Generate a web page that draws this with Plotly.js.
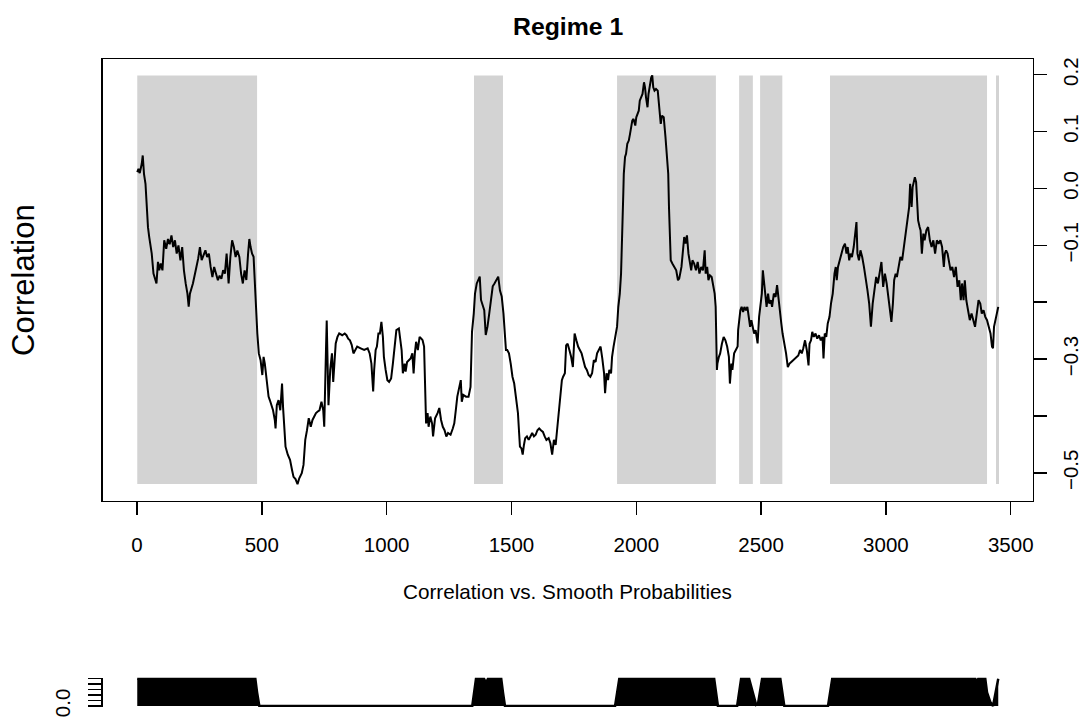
<!DOCTYPE html>
<html>
<head>
<meta charset="utf-8">
<script src="https://cdn.plot.ly/plotly-3.0.1.min.js"></script>
<style>html,body{margin:0;padding:0;background:#fff;}#chart{width:1084px;height:722px;}</style>
</head>
<body>
<div id="chart"></div>
<script>
// ---- Correlation series ----
var corrX = [1,6,11,19,23,28,34,38,44,49,59,66,74,78,84,89,95,102,109,117,124,131,138,145,152,159,166,174,181,188,195,202,207,212,224,231,238,245,252,259,267,274,281,288,295,302,309,317,324,331,338,345,352,359,367,374,381,388,395,402,410,417,424,431,438,445,450,455,461,467,471,476,482,488,495,502,507,512,521,527,532,538,545,552,555,560,567,574,581,585,591,595,604,613,621,627,635,643,650,660,667,674,681,688,696,703,710,717,724,731,739,746,750,753,757,760,764,767,774,781,786,791,796,803,810,822,832,839,846,853,860,867,874,882,896,910,924,932,939,946,950,956,961,967,973,979,985,989,996,1003,1010,1018,1025,1032,1039,1049,1053,1060,1065,1072,1076,1082,1089,1096,1103,1108,1113,1118,1125,1132,1139,1144,1150,1154,1158,1164,1168,1175,1182,1186,1194,1204,1211,1218,1225,1232,1239,1246,1256,1265,1271,1277,1283,1290,1297,1301,1307,1318,1328,1336,1342,1349,1354,1361,1368,1373,1378,1386,1391,1397,1404,1411,1418,1425,1432,1439,1447,1454,1461,1468,1472,1478,1483,1490,1497,1504,1511,1518,1526,1530,1534,1540,1545,1550,1555,1562,1569,1576,1583,1590,1597,1604,1611,1618,1626,1633,1640,1649,1656,1663,1670,1677,1684,1691,1698,1702,1707,1714,1719,1725,1732,1739,1746,1753,1760,1767,1774,1781,1788,1795,1802,1809,1816,1823,1830,1837,1843,1850,1857,1864,1871,1875,1881,1887,1892,1899,1903,1909,1913,1917,1923,1928,1934,1939,1942,1945,1948,1950,1955,1959,1964,1970,1975,1979,1984,1989,1996,2000,2006,2010,2014,2020,2025,2031,2035,2039,2045,2049,2054,2060,2064,2068,2073,2079,2086,2093,2098,2103,2110,2117,2122,2128,2131,2134,2138,2145,2153,2160,2167,2172,2181,2186,2192,2197,2203,2209,2214,2220,2225,2232,2239,2246,2253,2260,2267,2274,2278,2284,2289,2295,2302,2309,2314,2318,2321,2323,2325,2331,2336,2343,2350,2357,2364,2371,2375,2381,2385,2392,2399,2406,2408,2411,2417,2422,2428,2433,2439,2445,2450,2456,2461,2467,2472,2478,2486,2492,2497,2503,2507,2511,2517,2522,2528,2533,2539,2544,2551,2558,2564,2570,2575,2581,2586,2593,2600,2607,2614,2621,2628,2635,2642,2649,2656,2663,2669,2676,2683,2690,2694,2700,2705,2711,2718,2725,2732,2739,2746,2750,2755,2761,2767,2774,2780,2787,2794,2799,2803,2808,2815,2822,2829,2836,2842,2847,2853,2858,2864,2871,2878,2882,2886,2892,2898,2905,2912,2919,2926,2933,2940,2947,2954,2961,2968,2975,2982,2989,2996,3003,3010,3017,3022,3028,3033,3039,3044,3051,3058,3065,3072,3079,3086,3093,3097,3103,3107,3111,3116,3121,3125,3129,3135,3139,3144,3150,3155,3162,3169,3176,3183,3190,3197,3204,3211,3218,3225,3232,3236,3241,3247,3253,3259,3266,3273,3280,3287,3294,3300,3305,3311,3316,3322,3329,3336,3343,3350,3357,3364,3371,3378,3384,3391,3398,3405,3412,3419,3425,3429,3433,3439,3444,3450];
var corrY = [0.0286,0.0345,0.027,0.0433,0.058,0.0257,0.0082,-0.024,-0.068,-0.0854,-0.1146,-0.1497,-0.164,-0.167,-0.129,-0.144,-0.132,-0.144,-0.0912,-0.106,-0.0889,-0.098,-0.0825,-0.1029,-0.0912,-0.1146,-0.1,-0.1263,-0.103,-0.144,-0.167,-0.1848,-0.208,-0.185,-0.167,-0.1497,-0.138,-0.1234,-0.103,-0.126,-0.1146,-0.1088,-0.1205,-0.1146,-0.138,-0.1556,-0.138,-0.1497,-0.1614,-0.1532,-0.159,-0.1439,-0.1497,-0.1146,-0.167,-0.1205,-0.0912,-0.103,-0.1205,-0.109,-0.1205,-0.1497,-0.167,-0.144,-0.161,-0.1146,-0.0889,-0.103,-0.1146,-0.12,-0.161,-0.208,-0.255,-0.29,-0.302,-0.328,-0.296,-0.308,-0.3515,-0.366,-0.372,-0.381,-0.39,-0.407,-0.422,-0.381,-0.372,-0.39,-0.343,-0.384,-0.425,-0.454,-0.468,-0.477,-0.495,-0.507,-0.511,-0.5198,-0.5095,-0.5006,-0.486,-0.442,-0.425,-0.404,-0.419,-0.407,-0.401,-0.395,-0.392,-0.39,-0.375,-0.39,-0.419,-0.325,-0.284,-0.232,-0.308,-0.381,-0.319,-0.29,-0.34,-0.299,-0.2725,-0.261,-0.255,-0.258,-0.255,-0.258,-0.264,-0.267,-0.275,-0.29,-0.284,-0.278,-0.281,-0.284,-0.281,-0.29,-0.308,-0.357,-0.319,-0.284,-0.278,-0.255,-0.255,-0.2345,-0.261,-0.296,-0.319,-0.337,-0.34,-0.334,-0.308,-0.2725,-0.249,-0.246,-0.261,-0.284,-0.325,-0.308,-0.322,-0.305,-0.302,-0.299,-0.29,-0.325,-0.29,-0.2696,-0.284,-0.261,-0.264,-0.2667,-0.278,-0.366,-0.413,-0.395,-0.419,-0.401,-0.413,-0.436,-0.404,-0.395,-0.386,-0.407,-0.419,-0.425,-0.436,-0.43,-0.433,-0.422,-0.413,-0.39,-0.366,-0.3515,-0.337,-0.375,-0.363,-0.366,-0.366,-0.349,-0.252,-0.22,-0.185,-0.167,-0.161,-0.155,-0.196,-0.208,-0.214,-0.2576,-0.243,-0.22,-0.196,-0.172,-0.167,-0.161,-0.155,-0.1795,-0.19,-0.22,-0.255,-0.284,-0.284,-0.29,-0.308,-0.331,-0.343,-0.366,-0.395,-0.425,-0.454,-0.457,-0.468,-0.451,-0.439,-0.436,-0.442,-0.436,-0.43,-0.436,-0.433,-0.425,-0.422,-0.425,-0.428,-0.436,-0.442,-0.439,-0.448,-0.468,-0.442,-0.451,-0.419,-0.395,-0.366,-0.337,-0.331,-0.325,-0.276,-0.273,-0.284,-0.296,-0.314,-0.255,-0.267,-0.278,-0.284,-0.29,-0.302,-0.314,-0.319,-0.328,-0.331,-0.325,-0.302,-0.305,-0.29,-0.284,-0.278,-0.299,-0.325,-0.36,-0.325,-0.337,-0.319,-0.325,-0.296,-0.278,-0.267,-0.255,-0.243,-0.208,-0.185,-0.1497,-0.1146,-0.0561,-0.0094,0.0257,0.0553,0.0608,0.0784,0.0842,0.0959,0.1076,0.1193,0.1222,0.1105,0.1251,0.131,0.1368,0.1544,0.1602,0.1661,0.1866,0.1778,0.1602,0.1427,0.1661,0.1836,0.1953,0.1988,0.1778,0.172,0.1749,0.172,0.1427,0.1134,0.1281,0.1251,0.0901,0.0667,0.0257,-0.0327,-0.0912,-0.1263,-0.1322,-0.138,-0.1439,-0.1614,-0.1585,-0.138,-0.1146,-0.0854,-0.0971,-0.0825,-0.1146,-0.1263,-0.1439,-0.1263,-0.1322,-0.1439,-0.1292,-0.1497,-0.138,-0.1439,-0.1088,-0.1497,-0.138,-0.1614,-0.1526,-0.1556,-0.173,-0.1848,-0.208,-0.255,-0.319,-0.308,-0.296,-0.29,-0.273,-0.261,-0.267,-0.278,-0.296,-0.343,-0.308,-0.319,-0.29,-0.284,-0.278,-0.249,-0.2374,-0.2141,-0.2082,-0.217,-0.2082,-0.2141,-0.2082,-0.2257,-0.2432,-0.2316,-0.2491,-0.255,-0.2491,-0.2725,-0.2257,-0.2082,-0.1848,-0.1439,-0.1614,-0.1907,-0.2082,-0.1848,-0.2024,-0.1965,-0.2082,-0.1848,-0.1907,-0.17,-0.1965,-0.22,-0.2374,-0.255,-0.27,-0.29,-0.314,-0.308,-0.305,-0.302,-0.299,-0.296,-0.2937,-0.284,-0.29,-0.281,-0.267,-0.284,-0.311,-0.273,-0.267,-0.252,-0.261,-0.255,-0.264,-0.258,-0.267,-0.261,-0.299,-0.255,-0.261,-0.2374,-0.2257,-0.2024,-0.1848,-0.1497,-0.138,-0.1614,-0.138,-0.1263,-0.1146,-0.103,-0.0971,-0.1146,-0.103,-0.1263,-0.1146,-0.1205,-0.103,-0.0795,-0.059,-0.1146,-0.1263,-0.1088,-0.1205,-0.138,-0.1556,-0.1789,-0.2024,-0.2432,-0.2024,-0.173,-0.1556,-0.167,-0.1497,-0.1292,-0.173,-0.1497,-0.167,-0.1907,-0.2082,-0.2345,-0.2024,-0.1614,-0.1497,-0.1556,-0.138,-0.1205,-0.1263,-0.103,-0.0795,-0.0561,-0.0327,0.0082,-0.0327,0.0023,0.014,0.0199,0.0111,-0.0211,-0.0561,-0.0678,-0.0737,-0.1146,-0.0795,-0.0912,-0.0737,-0.0678,-0.0912,-0.103,-0.0912,-0.1146,-0.0912,-0.0971,-0.0912,-0.103,-0.138,-0.1146,-0.1088,-0.1146,-0.1263,-0.1439,-0.138,-0.1556,-0.138,-0.173,-0.1614,-0.1965,-0.167,-0.1965,-0.1614,-0.1965,-0.2141,-0.2316,-0.22,-0.2316,-0.2432,-0.22,-0.1965,-0.2024,-0.22,-0.2141,-0.2257,-0.2316,-0.2432,-0.255,-0.278,-0.2807,-0.2432,-0.2316,-0.22,-0.2082];

// ---- Regime 1 periods (shaded) ----
var regimeStart = [1, 1350, 1923, 2412, 2496, 2776, 3441];
var regimeEnd   = [481, 1466, 2319, 2467, 2585, 3405, 3453];

// ---- Smoothed probabilities (bottom strip) ----
var probX = [1,474,481,490,1343,1350,1358,1390,1398,1406,1459,1466,1474,1915,1923,1932,2312,2319,2327,2404,2412,2420,2452,2467,2480,2488,2496,2504,2577,2585,2593,2768,2776,2785,3358,3364,3370,3398,3405,3418,3429,3441,3450];
var probP = [1,1,0.5,0,0,0.5,1,1,0.85,1,1,0.5,0,0,0.5,1,1,0.5,0,0,0.5,1,1,0.5,0.05,0.1,0.5,1,1,0.5,0,0,0.5,1,1,0.88,1,1,0.5,0.15,0,0.5,1];

// ---- Tick labels ----
var xTicks = [0, 500, 1000, 1500, 2000, 2500, 3000, 3500];
var yTickVals = [0.2, 0.1, 0.0, -0.1, -0.2, -0.3, -0.4, -0.5];
var yTickText = ['0.2', '0.1', '0.0', '\u22120.1', '', '\u22120.3', '', '\u22120.5'];
var pTickVals = [0, 0.2, 0.4, 0.6, 0.8, 1.0];
var pTickText = ['0.0', '', '', '', '', ''];

var W = 1084, H = 722;
var FONT = 'Liberation Sans, Arial, Helvetica, sans-serif';
var yMin = Math.min.apply(null, corrY), yMax = Math.max.apply(null, corrY);

var shapes = regimeStart.map(function (s, i) {
  return {type: 'rect', xref: 'x', yref: 'y', x0: s, x1: regimeEnd[i], y0: yMin, y1: yMax,
          fillcolor: '#d3d3d3', line: {width: 0}, layer: 'below'};
});

var traces = [
  {x: corrX, y: corrY, type: 'scatter', mode: 'lines', xaxis: 'x', yaxis: 'y',
   line: {color: '#000', width: 2}, hoverinfo: 'skip'},
  {x: probX, y: probP, type: 'scatter', mode: 'lines', xaxis: 'x2', yaxis: 'y2',
   fill: 'tozeroy', fillcolor: '#000', line: {color: '#000', width: 2.5}, hoverinfo: 'skip'}
];

var xDom = [102.7 / W, 1032.7 / W];
var layout = {
  width: W, height: H,
  margin: {l: 0, r: 0, t: 0, b: 0, pad: 0},
  paper_bgcolor: '#fff', plot_bgcolor: 'rgba(0,0,0,0)',
  showlegend: false,
  font: {family: FONT, color: '#000', size: 20.5},
  xaxis: {domain: xDom, range: [-137.4, 3588], anchor: 'y',
          showgrid: false, zeroline: false, showline: true, mirror: true, linecolor: '#000', linewidth: 1.5,
          ticks: 'outside', ticklen: 13, tickwidth: 1.5, tickcolor: '#000',
          tickmode: 'array', tickvals: xTicks, ticktext: xTicks.map(String),
          tickfont: {family: FONT, size: 20.5, color: '#000'}, ticklabelstandoff: 12},
  yaxis: {domain: [(H - 500.5) / H, (H - 59) / H], range: [-0.5486, 0.2276], anchor: 'x', side: 'right',
          showgrid: false, zeroline: false, showline: true, mirror: true, linecolor: '#000', linewidth: 1.5,
          ticks: 'outside', ticklen: 13, tickwidth: 1.5, tickcolor: '#000',
          tickmode: 'array', tickvals: yTickVals, ticktext: yTickText, tickangle: -90,
          tickfont: {family: FONT, size: 20.5, color: '#000'}, ticklabelstandoff: 6},
  xaxis2: {domain: xDom, range: [-137.4, 3588], anchor: 'y2',
           showgrid: false, zeroline: false, showline: false, showticklabels: false, ticks: ''},
  yaxis2: {domain: [(H - 707.1) / H, (H - 677.6) / H], range: [-0.04, 1.04], anchor: 'x2', side: 'left',
           showgrid: false, zeroline: false, showline: true, linecolor: '#000', linewidth: 1.5,
           ticks: 'outside', ticklen: 13, tickwidth: 1.5, tickcolor: '#000',
           tickmode: 'array', tickvals: pTickVals, ticktext: pTickText, tickangle: -90,
           tickfont: {family: FONT, size: 20.5, color: '#000'}, ticklabelstandoff: 10},
  shapes: shapes,
  annotations: [
    {text: '<b>Regime 1</b>', xref: 'paper', yref: 'paper', x: 567.7 / W, y: 1 - 27 / H,
     xanchor: 'center', yanchor: 'middle', showarrow: false, font: {family: FONT, size: 24.8, color: '#000'}},
    {text: 'Correlation', xref: 'paper', yref: 'paper', x: 23 / W, y: 1 - 280 / H, textangle: -90,
     xanchor: 'center', yanchor: 'middle', showarrow: false, font: {family: FONT, size: 31, color: '#000'}},
    {text: 'Correlation vs. Smooth Probabilities', xref: 'paper', yref: 'paper', x: 567.7 / W, y: 1 - 591 / H,
     xanchor: 'center', yanchor: 'middle', showarrow: false, font: {family: FONT, size: 20.7, color: '#000'}}
  ]
};

Plotly.newPlot('chart', traces, layout, {staticPlot: true, displayModeBar: false});
</script>
</body>
</html>
